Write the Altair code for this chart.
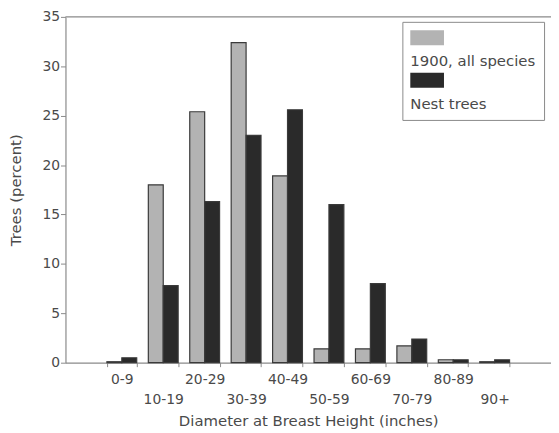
import altair as alt
import pandas as pd

categories = ["0-9", "10-19", "20-29", "30-39", "40-49", "50-59", "60-69", "70-79", "80-89", "90+"]
all_species = [0.1, 18.0, 25.4, 32.4, 18.9, 1.4, 1.4, 1.7, 0.3, 0.1]
nest_trees = [0.5, 7.8, 16.3, 23.0, 25.6, 16.0, 8.0, 2.4, 0.3, 0.3]
series = ["1900, all species", "Nest trees"]
colors = ["#b3b3b3", "#2a2a2a"]
y_ticks = [0, 5, 10, 15, 20, 25, 30, 35]

rows = []
for c, a, n in zip(categories, all_species, nest_trees):
    rows.append({"dbh": c, "series": series[0], "pct": a})
    rows.append({"dbh": c, "series": series[1], "pct": n})
df = pd.DataFrame(rows)

odd_labels = categories[1::2]
odd_js = "[" + ",".join("'" + s + "'" for s in odd_labels) + "]"

FONT = "DejaVu Sans"
TXT = "#4a4a4a"
AX = "#8a8a8a"

x_enc = alt.X(
    "dbh:N",
    sort=categories,
    title="Diameter at Breast Height (inches)",
    scale=alt.Scale(paddingInner=0.28, paddingOuter=1.0),
    axis=alt.Axis(
        labelAngle=0,
        labelExpr=f"indexof({odd_js}, datum.value) >= 0 ? ['', datum.label] : datum.label",
        labelLineHeight=20,
        labelBaseline="top",
        labelPadding=6,
        tickBand="extent",
        tickSize=4,
        titlePadding=7,
    ),
)

bars = alt.Chart(df).mark_bar(stroke="#3a3a3a", strokeWidth=1.2).encode(
    x=x_enc,
    xOffset=alt.XOffset("series:N", sort=series),
    y=alt.Y(
        "pct:Q",
        title="Trees (percent)",
        scale=alt.Scale(domain=[0, 35], nice=False),
        axis=alt.Axis(values=y_ticks, grid=False, tickSize=5, labelPadding=1, titlePadding=19),
    ),
    color=alt.Color(
        "series:N",
        sort=series,
        scale=alt.Scale(domain=series, range=colors),
        legend=alt.Legend(
            title=None,
            orient="none",
            legendX=340,
            legendY=5,
            direction="vertical",
            symbolType="M-1,-0.94L3.25,-0.94L3.25,0.94L-1,0.94Z",
            symbolSize=256,
            symbolStrokeWidth=0,
            symbolOpacity=1,
            labelExpr="['', datum.label]",
            labelBaseline="top",
            labelOffset={"expr": "-16"},
            labelFontSize=15,
            labelFont=FONT,
            labelColor=TXT,
            labelLimit=300,
            strokeColor=AX,
            padding=8,
            rowPadding=3,
        ),
    ),
)

top_line = alt.Chart(pd.DataFrame({"v": [35]})).mark_rule(color=AX, strokeWidth=1.2).encode(
    y=alt.Y("v:Q", scale=alt.Scale(domain=[0, 35], nice=False))
)

chart = (
    alt.layer(bars, top_line)
    .properties(
        width=490,
        height=349,
        autosize=alt.AutoSizeParams(type="none"),
        padding={"left": 58, "top": 7, "right": 0, "bottom": 70},
        background="white",
    )
    .configure_view(stroke=None)
    .configure_axis(
        labelFont=FONT,
        titleFont=FONT,
        labelFontSize=14,
        titleFontSize=15,
        titleFontWeight="normal",
        labelColor=TXT,
        titleColor=TXT,
        domainColor=AX,
        tickColor=AX,
        domainWidth=1.2,
    )
)

chart.save("out.html", embed_options={"renderer": "svg", "actions": False})
